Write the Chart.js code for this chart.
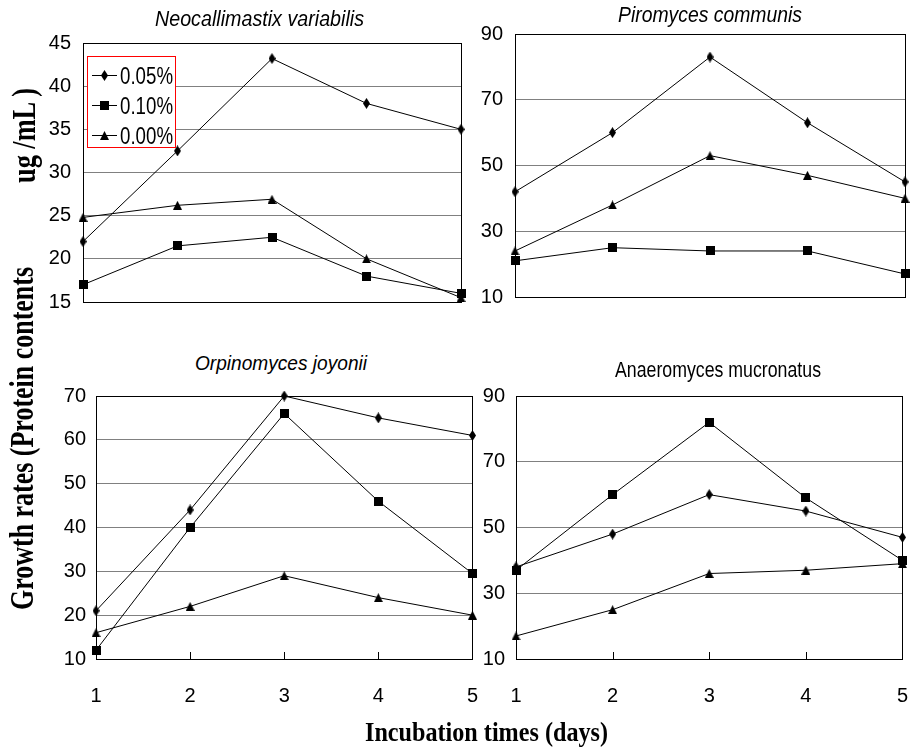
<!DOCTYPE html>
<html><head><meta charset="utf-8">
<script src="https://cdn.jsdelivr.net/npm/chart.js@4.4.1/dist/chart.umd.min.js"></script>
<style>
html,body{margin:0;padding:0;background:#fff;width:913px;height:750px;overflow:hidden;position:relative}
canvas{position:absolute}
.t{position:absolute;white-space:nowrap;line-height:1;color:#000;transform-origin:0 0}
</style></head><body>
<canvas id="c1"></canvas><canvas id="c2"></canvas><canvas id="c3"></canvas><canvas id="c4"></canvas>
<script>
// ---------------- data ----------------
const days = [1, 2, 3, 4, 5];
const seriesNames = ['0.05%', '0.10%', '0.00%'];

const titleNV = 'Neocallimastix variabilis';
const nv005 = [22, 32.5, 43.2, 38, 35];
const nv010 = [17, 21.5, 22.5, 18, 16];
const nv000 = [24.8, 26.2, 26.9, 20, 15.5];
const yTicksNV = [15, 20, 25, 30, 35, 40, 45];

const titlePC = 'Piromyces communis';
const pc005 = [42, 60, 83, 63, 45];
const pc010 = [21, 25, 24, 24, 17];
const pc000 = [24, 38, 53, 47, 40];
const yTicksPC = [10, 30, 50, 70, 90];

const titleOJ = 'Orpinomyces joyonii';
const oj005 = [21, 44, 70, 65, 61];
const oj010 = [12, 40, 66, 46, 29.5];
const oj000 = [16, 22, 29, 24, 20];
const yTicksOJ = [10, 20, 30, 40, 50, 60, 70];

const titleAM = 'Anaeromyces mucronatus';
const am005 = [38, 48, 60, 55, 47];
const am010 = [37, 60, 82, 59, 40];
const am000 = [17, 25, 36, 37, 39];
const yTicksAM = [10, 30, 50, 70, 90];

const xAxisTitle = 'Incubation times (days)';
const yAxisTitleA = 'Growth rates (Protein contents';
const yAxisTitleB = 'ug /mL )';

// ---------------- markers ----------------
function mk(w, h, draw) {
  const c = document.createElement('canvas'); c.width = w; c.height = h;
  const x = c.getContext('2d'); x.fillStyle = '#000'; x.beginPath(); draw(x); x.closePath(); x.fill();
  return c;
}
const markers = [
  mk(7, 11, x => { x.moveTo(3.5, 0); x.lineTo(7, 5.5); x.lineTo(3.5, 11); x.lineTo(0, 5.5); }),
  mk(9, 9, x => { x.rect(0, 0, 9, 9); }),
  mk(9, 9, x => { x.moveTo(4.5, 0); x.lineTo(9, 9); x.lineTo(0, 9); })
];

const SANS = "Arial, 'Liberation Sans', sans-serif";
const SERIF = "'Times New Roman', 'Liberation Serif', serif";

// ---------------- plugins ----------------
const framePlugin = {
  id: 'frame',
  beforeDatasetsDraw(chart, args, opts) {
    const a = chart.chartArea, ctx = chart.ctx;
    const l = Math.round(a.left), t = Math.round(a.top), r = Math.round(a.right), b = Math.round(a.bottom);
    ctx.save();
    ctx.strokeStyle = '#000'; ctx.lineWidth = 1;
    ctx.strokeRect(l + 0.5, t + 0.5, r - l, b - t);
    if (opts.innerTicks) {
      const xs = chart.scales.x;
      xs.ticks.forEach((tk, i) => {
        const px = Math.round(xs.getPixelForTick(i)) + 0.5;
        ctx.beginPath(); ctx.moveTo(px, b + 0.5); ctx.lineTo(px, b - 7); ctx.stroke();
      });
    }
    ctx.restore();
  }
};
const boxLegendPlugin = {
  id: 'boxLegend',
  afterDraw(chart, args, opts) {
    if (!opts.display) return;
    const a = chart.chartArea, ctx = chart.ctx;
    const bx = Math.round(a.left + 4), by = Math.round(a.top + 13), bw = 88, bh = 91;
    ctx.save();
    ctx.fillStyle = '#fff'; ctx.fillRect(bx, by, bw, bh);
    ctx.strokeStyle = '#ff0000'; ctx.lineWidth = 1; ctx.strokeRect(bx + 0.5, by + 0.5, bw, bh);
    chart.data.datasets.forEach((ds, i) => {
      const cy = by + 19 + i * 30;
      ctx.strokeStyle = '#000'; ctx.lineWidth = 1;
      ctx.beginPath(); ctx.moveTo(bx + 5, cy + 0.5); ctx.lineTo(bx + 30, cy + 0.5); ctx.stroke();
      const m = ds.pointStyle; ctx.drawImage(m, bx + 17.5 - m.width / 2, cy + 0.5 - m.height / 2);
      ctx.font = '23px ' + SANS; ctx.fillStyle = '#000'; ctx.textBaseline = 'alphabetic';
      const w = ctx.measureText(ds.label).width;
      ctx.save(); ctx.translate(bx + 33, cy + 8.5); ctx.scale(53 / w, 1); ctx.fillText(ds.label, 0, 0); ctx.restore();
    });
    ctx.restore();
  }
};

// ---------------- panels ----------------
const panels = [
  { id: 'c1', data: [nv005, nv010, nv000], ticks: yTicksNV, L: 83, T: 43, R: 461, B: 302, showX: false, legend: true, pad: 12 },
  { id: 'c2', data: [pc005, pc010, pc000], ticks: yTicksPC, L: 515, T: 34, R: 905, B: 297, showX: false, legend: false, pad: 12 },
  { id: 'c3', data: [oj005, oj010, oj000], ticks: yTicksOJ, L: 96, T: 396, R: 472, B: 659, showX: true, legend: false, pad: 10 },
  { id: 'c4', data: [am005, am010, am000], ticks: yTicksAM, L: 516, T: 396, R: 902, B: 659, showX: true, legend: false, pad: 11 }
];
const YW = 60, PT = 14, PR = 8, XH_SHOW = 60, XH_HIDE = 14;

function config(p) {
  const tk = p.ticks;
  return {
    type: 'line',
    data: {
      labels: days,
      datasets: p.data.map((arr, i) => ({
        label: seriesNames[i], data: arr, borderColor: '#000', backgroundColor: '#000', borderWidth: 1,
        pointStyle: markers[i], pointRadius: 5, pointHoverRadius: 5, tension: 0, fill: false, clip: false
      }))
    },
    options: {
      responsive: false, maintainAspectRatio: false, animation: false, devicePixelRatio: 1, events: [],
      layout: { padding: { left: 0, top: PT, right: PR, bottom: p.showX ? 0 : XH_HIDE } },
      plugins: {
        legend: { display: false }, title: { display: false }, tooltip: { enabled: false },
        frame: { innerTicks: p.showX }, boxLegend: { display: p.legend }
      },
      scales: {
        x: {
          type: 'category', offset: false, display: p.showX,
          grid: { display: false, drawTicks: false }, border: { display: false },
          ticks: { color: '#000', font: { family: SANS, size: 20 }, padding: 25, maxRotation: 0, autoSkip: false },
          afterFit: s => { if (p.showX) s.height = XH_SHOW; }
        },
        y: {
          min: tk[0], max: tk[tk.length - 1],
          afterBuildTicks: s => { s.ticks = tk.map(v => ({ value: v })); },
          grid: { color: '#808080', lineWidth: 1, drawTicks: false }, border: { display: false },
          ticks: { color: '#000', font: { family: SANS, size: 20 }, padding: p.pad },
          afterFit: s => { s.width = YW; }
        }
      }
    },
    plugins: [framePlugin, boxLegendPlugin]
  };
}

function build(p, cv, w, h) {
  cv.width = w; cv.height = h; cv.style.width = w + 'px'; cv.style.height = h + 'px';
  return new Chart(cv, config(p));
}

panels.forEach(p => {
  const cv = document.getElementById(p.id);
  const xh = p.showX ? XH_SHOW : XH_HIDE;
  let w = p.R - p.L + YW + PR, h = p.B - p.T + PT + xh;
  let ch = build(p, cv, w, h);
  let a = ch.chartArea;
  const dw = Math.round((p.R - p.L) - (a.right - a.left));
  const dh = Math.round((p.B - p.T) - (a.bottom - a.top));
  if (dw !== 0 || dh !== 0) {
    ch.destroy();
    ch = build(p, cv, w + dw, h + dh);
    a = ch.chartArea;
  }
  cv.style.left = Math.round(p.L - a.left) + 'px';
  cv.style.top = Math.round(p.T - a.top) + 'px';
});

// ---------------- html text ----------------
function placeText(txt, o) {
  const d = document.createElement('div'); d.className = 't'; d.textContent = txt;
  d.style.fontFamily = o.family; d.style.fontSize = o.size + 'px';
  d.style.fontStyle = o.style || 'normal'; d.style.fontWeight = o.weight || 'normal';
  document.body.appendChild(d);
  const w = d.getBoundingClientRect().width;
  const s = o.len / w;
  const base = o.baseRatio * o.size;
  if (!o.rotate) {
    d.style.left = o.x + 'px'; d.style.top = (o.baseline - base) + 'px';
    d.style.transform = 'scaleX(' + s + ')';
  } else {
    d.style.left = (o.baseline - base) + 'px'; d.style.top = o.y + 'px';
    d.style.transform = 'rotate(-90deg) scaleX(' + s + ')';
  }
}
const SB = 0.8465, RB = 0.8375;
placeText(titleNV, { family: SANS, size: 22, style: 'italic', x: 155, len: 209, baseline: 26.5, baseRatio: SB });
placeText(titlePC, { family: SANS, size: 22, style: 'italic', x: 618, len: 184, baseline: 22.5, baseRatio: SB });
placeText(titleOJ, { family: SANS, size: 21, style: 'italic', x: 195, len: 172, baseline: 369.5, baseRatio: SB });
placeText(titleAM, { family: SANS, size: 22, x: 615, len: 206, baseline: 377.5, baseRatio: SB });
placeText(xAxisTitle, { family: SERIF, size: 28, weight: 'bold', x: 365, len: 243, baseline: 741.5, baseRatio: RB });
placeText(yAxisTitleA, { family: SERIF, size: 34, weight: 'bold', rotate: true, y: 610, len: 343, baseline: 33.5, baseRatio: RB });
placeText(yAxisTitleB, { family: SERIF, size: 34, weight: 'bold', rotate: true, y: 183, len: 95, baseline: 35, baseRatio: RB });
</script>
</body></html>
